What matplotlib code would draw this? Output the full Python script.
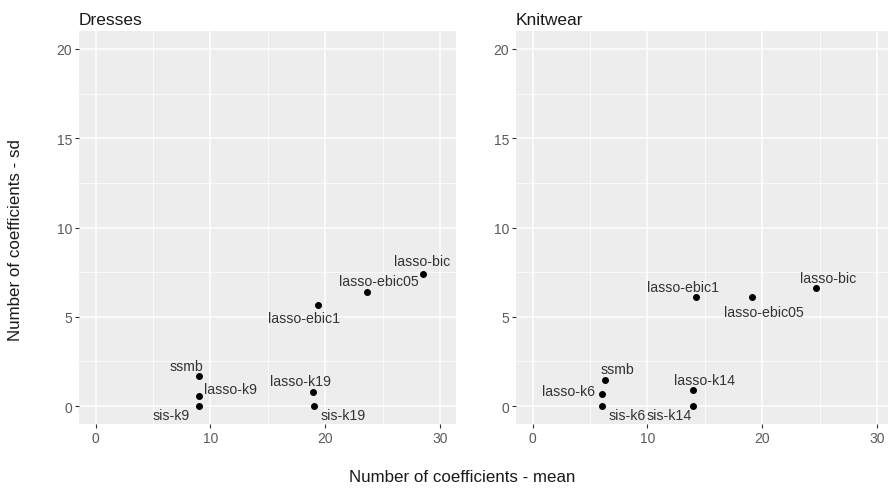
import matplotlib.pyplot as plt

plt.rcParams['font.family'] = ['Liberation Sans', 'DejaVu Sans']

# Dresses
dresses_methods = ['ssmb', 'lasso-k9', 'sis-k9', 'lasso-k19', 'sis-k19',
                   'lasso-ebic1', 'lasso-ebic05', 'lasso-bic']
dresses_mean = [9.0, 9.0, 9.0, 18.9, 19.0, 19.4, 23.6, 28.5]
dresses_sd = [1.68, 0.57, 0.0, 0.80, 0.0, 5.67, 6.37, 7.42]

# Knitwear
knit_methods = ['ssmb', 'lasso-k6', 'sis-k6', 'lasso-k14', 'sis-k14',
                'lasso-ebic1', 'lasso-ebic05', 'lasso-bic']
knit_mean = [6.3, 6.05, 6.05, 14.0, 14.0, 14.2, 19.15, 24.7]
knit_sd = [1.49, 0.69, 0.0, 0.88, 0.0, 6.1, 6.1, 6.6]

# label offsets (px, right / up), imitating ggrepel placement
dresses_offsets = [(-13, 10), (32, 6.5), (-28, -9), (-12, 10.5), (29, -9),
                   (-14, -13.5), (12, 11), (-1, 13)]
knit_offsets = [(12, 11), (-34, 2.5), (25, -9), (11, 10), (-24.5, -9),
                (-13, 10.5), (11, -14.5), (11.5, 10.5)]

W, H = 888, 489
fig = plt.figure(figsize=(W / 100, H / 100), dpi=100)

panel_w = 376.5 / W
panel_b = (H - 425) / H
panel_h = 393 / H


def draw_panel(ax, title, xs, ys, names, offsets):
    ax.set_facecolor('#EDEDED')
    for s in ax.spines.values():
        s.set_visible(False)
    ax.set_xlim(-1.45, 31.35)
    ax.set_ylim(-1, 21)
    ax.set_xticks([0, 10, 20, 30])
    ax.set_yticks([0, 5, 10, 15, 20])
    ax.set_xticks([5, 15, 25], minor=True)
    ax.set_yticks([2.5, 7.5, 12.5, 17.5], minor=True)
    ax.grid(which='major', color='white', linewidth=1.1)
    ax.grid(which='minor', color='white', linewidth=0.55)
    ax.set_axisbelow(True)
    ax.tick_params(which='major', length=3, width=0.8, color='#333333',
                   labelcolor='#5A5A5A', labelsize=10, pad=2)
    ax.tick_params(which='minor', length=0)
    ax.set_title(title, loc='left', fontsize=12.5, color='#1A1A1A', pad=5)
    ax.scatter(xs, ys, s=16, color='black', zorder=3)
    for x, y, name, (dx, dy) in zip(xs, ys, names, offsets):
        ax.annotate(name, (x, y), xytext=(dx * 0.72, dy * 0.72),
                    textcoords='offset points', ha='center', va='center',
                    fontsize=10.2, color='#333333', zorder=4)


ax1 = fig.add_axes([79 / W, panel_b, panel_w, panel_h])
draw_panel(ax1, 'Dresses', dresses_mean, dresses_sd, dresses_methods, dresses_offsets)

ax2 = fig.add_axes([516 / W, panel_b, panel_w, panel_h])
draw_panel(ax2, 'Knitwear', knit_mean, knit_sd, knit_methods, knit_offsets)

fig.text(462 / W, 1 - 478 / H, 'Number of coefficients - mean',
         ha='center', va='center', fontsize=12.2, color='#1A1A1A')
fig.text(16 / W, 1 - 240 / H, 'Number of coefficients - sd',
         ha='center', va='center', rotation=90, fontsize=12.2, color='#1A1A1A')

fig.savefig('out.png', dpi=100)
